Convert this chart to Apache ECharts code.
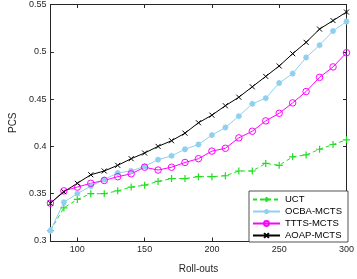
<!DOCTYPE html>
<html><head><meta charset="utf-8">
<script src="https://cdn.jsdelivr.net/npm/echarts@6/dist/echarts.min.js"></script>
<style>html,body{margin:0;padding:0;background:#fff}#c{width:357px;height:279px}</style>
</head><body><div id="c"></div>
<script>
const rollouts = [80,90,100,110,120,130,140,150,160,170,180,190,200,210,220,230,240,250,260,270,280,290,300];
const uct  = [0.311,0.335,0.344,0.350,0.350,0.353,0.357,0.359,0.363,0.366,0.366,0.368,0.368,0.369,0.374,0.374,0.382,0.380,0.389,0.391,0.397,0.402,0.407];
const ocba = [0.311,0.341,0.350,0.358,0.365,0.372,0.374,0.379,0.386,0.390,0.397,0.402,0.412,0.420,0.432,0.445,0.451,0.467,0.477,0.494,0.507,0.522,0.532];
const ttts = [0.340,0.353,0.357,0.361,0.364,0.368,0.371,0.378,0.375,0.378,0.383,0.387,0.395,0.398,0.409,0.416,0.427,0.435,0.446,0.458,0.473,0.484,0.499];
const aoap = [0.340,0.352,0.361,0.370,0.374,0.380,0.387,0.393,0.400,0.406,0.414,0.425,0.433,0.443,0.452,0.463,0.474,0.485,0.498,0.510,0.524,0.533,0.542];
const xTicks = [100,150,200,250,300];
const seriesNames = ['UCT','OCBA-MCTS','TTTS-MCTS','AOAP-MCTS'];

const axisCol = '#262626';
const font = 'Liberation Sans, Arial, sans-serif';
const pair = arr => arr.map((v,i)=>[rollouts[i], v]);

const chart = echarts.init(document.getElementById('c'), null, {renderer:'canvas'});
const xBase = {
  type:'value', min:80, max:300,
  axisLine:{show:true, lineStyle:{color:axisCol, width:1}},
  axisTick:{show:true, inside:true, length:3.5, customValues:xTicks, lineStyle:{color:axisCol}},
  splitLine:{show:false}
};
const yBase = {
  type:'value', min:0.3, max:0.55, interval:0.05,
  axisLine:{show:true, lineStyle:{color:axisCol, width:1}},
  axisTick:{show:true, inside:true, length:3.5, lineStyle:{color:axisCol}},
  splitLine:{show:false}
};
const plusPath = 'path://M0,5L10,5M5,0L5,10';
const starPath = 'path://M5,0L5,10M0,5L10,5M1.5,1.5L8.5,8.5M1.5,8.5L8.5,1.5';
const crossPath = 'path://M0,0L10,10M0,10L10,0';

chart.setOption({
  animation:false,
  grid:{left:35.5, right:8.7, top:4, bottom:28},
  legend:{
    data:seriesNames, orient:'vertical', right:9, bottom:37,
    backgroundColor:'#fff', borderColor:axisCol, borderWidth:0.8,
    padding:[3,6,1,3], itemGap:1, itemWidth:27, itemHeight:6,
    textStyle:{fontFamily:font, fontSize:9.5, color:'#000', lineHeight:11}
  },
  xAxis:[
    Object.assign({}, xBase, {position:'bottom',
      name:'Roll-outs', nameLocation:'middle', nameGap:23,
      nameTextStyle:{fontFamily:font, fontSize:10, color:axisCol},
      axisLabel:{show:true, customValues:xTicks, fontFamily:font, fontSize:9, color:axisCol, margin:4}}),
    Object.assign({}, xBase, {position:'top', axisLabel:{show:false}})
  ],
  yAxis:[
    Object.assign({}, yBase, {position:'left',
      name:'PCS', nameLocation:'middle', nameGap:30, nameRotate:90,
      nameTextStyle:{fontFamily:font, fontSize:10, color:axisCol},
      axisLabel:{show:true, fontFamily:font, fontSize:9, color:axisCol, margin:4}}),
    Object.assign({}, yBase, {position:'right', axisLabel:{show:false}})
  ],
  series:[
    {name:'UCT', type:'line', data:pair(uct), symbol:plusPath, symbolSize:7,
     lineStyle:{color:'#22dd22', width:1, type:[4,3]},
     itemStyle:{color:'rgba(0,0,0,0)', borderColor:'#22dd22', borderWidth:1.2}},
    {name:'OCBA-MCTS', type:'line', data:pair(ocba), symbol:starPath, symbolSize:6,
     lineStyle:{color:'#8fd0ee', width:1},
     itemStyle:{color:'rgba(0,0,0,0)', borderColor:'#8fd0ee', borderWidth:1.6}},
    {name:'TTTS-MCTS', type:'line', data:pair(ttts), symbol:'circle', symbolSize:6.5,
     lineStyle:{color:'#ff00ff', width:1},
     itemStyle:{color:'rgba(0,0,0,0)', borderColor:'#ff00ff', borderWidth:1}},
    {name:'AOAP-MCTS', type:'line', data:pair(aoap), symbol:crossPath, symbolSize:5,
     lineStyle:{color:'#000', width:1},
     itemStyle:{color:'rgba(0,0,0,0)', borderColor:'#000', borderWidth:1}}
  ]
});
</script></body></html>
